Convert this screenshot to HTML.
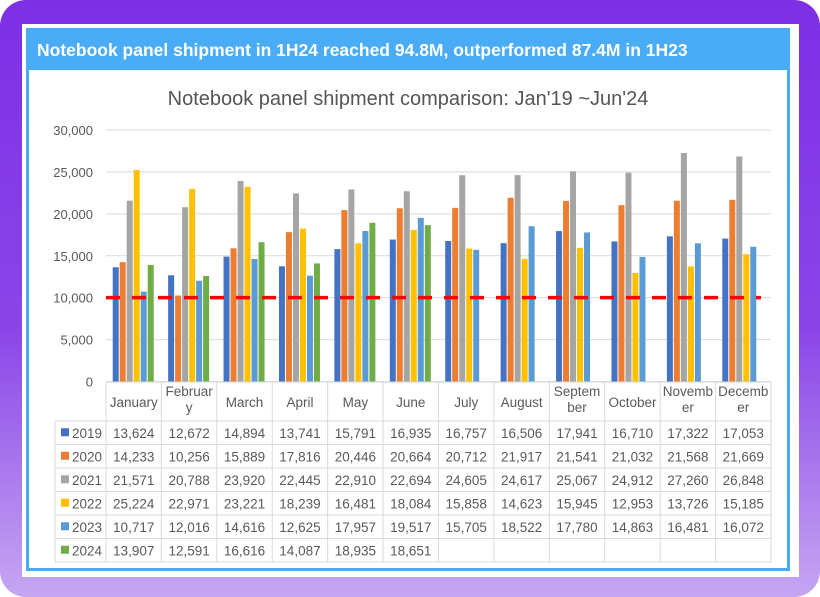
<!DOCTYPE html>
<html><head><meta charset="utf-8">
<style>
html,body{margin:0;padding:0;width:820px;height:597px;overflow:hidden;background:#fff;font-family:"Liberation Sans",sans-serif;}
</style></head>
<body>
<svg id="chart" width="820" height="597" viewBox="0 0 820 597" xmlns="http://www.w3.org/2000/svg">
<defs>
<linearGradient id="pg" x1="0" y1="0" x2="0" y2="1">
<stop offset="0" stop-color="#7d2fe6"/><stop offset="0.55" stop-color="#8a45e8"/><stop offset="1" stop-color="#c6a6f2"/>
</linearGradient>
</defs>
<rect x="0" y="0" width="820" height="597" rx="26" fill="url(#pg)"/>
<rect x="22" y="24" width="777" height="553" fill="#ffffff"/>
<rect x="27.5" y="29.5" width="761" height="540" fill="#fff" stroke="#4aaaf5" stroke-width="3"/>
<rect x="27" y="29" width="763" height="41" fill="#4aabf6"/>
<text x="37" y="56" font-size="17.5" font-weight="bold" fill="#fff">Notebook panel shipment in 1H24 reached 94.8M, outperformed 87.4M in 1H23</text>
<text x="408" y="105" font-size="20" fill="#555" text-anchor="middle">Notebook panel shipment comparison: Jan'19 ~Jun'24</text>
<g id="grid"></g><g id="bars"></g><g id="table"></g>
</svg>
<script>
const months=["January","February","March","April","May","June","July","August","September","October","November","December"];
const monthLabels=[["January"],["Februar","y"],["March"],["April"],["May"],["June"],["July"],["August"],["Septem","ber"],["October"],["Novemb","er"],["Decemb","er"]];
const years=["2019","2020","2021","2022","2023","2024"];
const colors=["#4472c4","#ed7d31","#a5a5a5","#ffc000","#5b9bd5","#70ad47"];
const s2019=[13624,12672,14894,13741,15791,16935,16757,16506,17941,16710,17322,17053];
const s2020=[14233,10256,15889,17816,20446,20664,20712,21917,21541,21032,21568,21669];
const s2021=[21571,20788,23920,22445,22910,22694,24605,24617,25067,24912,27260,26848];
const s2022=[25224,22971,23221,18239,16481,18084,15858,14623,15945,12953,13726,15185];
const s2023=[10717,12016,14616,12625,17957,19517,15705,18522,17780,14863,16481,16072];
const s2024=[13907,12591,16616,14087,18935,18651];
const series=[s2019,s2020,s2021,s2022,s2023,s2024];
const yTicks=[0,5000,10000,15000,20000,25000,30000];
const refValue=10000;
const NS="http://www.w3.org/2000/svg";
const X0=106,X1=771,Y0=381.5,Y1=130,YMAX=30000;
const cw=(X1-X0)/months.length;
const y=v=>Y0-(v/YMAX)*(Y0-Y1);
const xc=i=>X0+cw*i;
function mk(t,a,p){const e=document.createElementNS(NS,t);for(const k in a)e.setAttribute(k,a[k]);p.appendChild(e);return e;}
const grid=document.getElementById('grid'),bars=document.getElementById('bars'),tab=document.getElementById('table');
yTicks.forEach(v=>{
 const l=mk('line',{x1:X0,x2:X1,y1:y(v),y2:y(v),stroke:'#d9d9d9','stroke-width':1},grid);
 
 
 const t=mk('text',{x:93,y:y(v)+5,'font-size':13,fill:'#595959','text-anchor':'end'},grid);
 t.textContent=v.toLocaleString('en-US');
 
 
});
const bw=6,step=7;
series.forEach((s,si)=>{
 s.forEach((v,i)=>{
  const gx=xc(i)+cw/2-(6*step)/2+si*step;
  const r=mk('rect',{x:gx,y:y(v),width:bw,height:Y0-y(v),fill:colors[si]},bars);
  
  
 });
});
const ref=mk('line',{x1:X0,x2:X1-10,y1:y(refValue),y2:y(refValue),stroke:'#ff0000','stroke-width':3.5,'stroke-dasharray':'14 12'},bars);


// table
const T0=382,H0=421,RH=23.5,LX=55;
const lc='#d9d9d9';
mk('line',{x1:X0,x2:X1,y1:T0,y2:T0,stroke:lc},tab);
for(let i=0;i<=months.length;i++){mk('line',{x1:xc(i),x2:xc(i),y1:T0,y2:H0+RH*6,stroke:lc},tab);}
for(let r=0;r<=6;r++){mk('line',{x1:LX,x2:X1,y1:H0+RH*r,y2:H0+RH*r,stroke:lc},tab);}
mk('line',{x1:LX,x2:LX,y1:H0,y2:H0+RH*6,stroke:lc},tab);
monthLabels.forEach((ls,i)=>{
 ls.forEach((s,k)=>{
  const t=mk('text',{x:xc(i)+cw/2,y:(ls.length==1?407:396+k*16),'font-size':13.5,fill:'#595959','text-anchor':'middle'},tab);
  t.textContent=s;
  
  
 });
});
years.forEach((yr,si)=>{
 const ry=H0+RH*si+RH/2;
 const k=mk('rect',{x:61,y:ry-4.5,width:8,height:8,fill:colors[si]},tab);
 
 
 const t=mk('text',{x:72,y:ry+5,'font-size':13.5,fill:'#595959'},tab);
 t.textContent=yr;
 
 
 series[si].forEach((v,i)=>{
  const c=mk('text',{x:xc(i)+cw/2,y:ry+5,'font-size':13.5,fill:'#595959','text-anchor':'middle'},tab);
  c.textContent=v.toLocaleString('en-US');
  
  
 });
});
</script>
</body></html>
